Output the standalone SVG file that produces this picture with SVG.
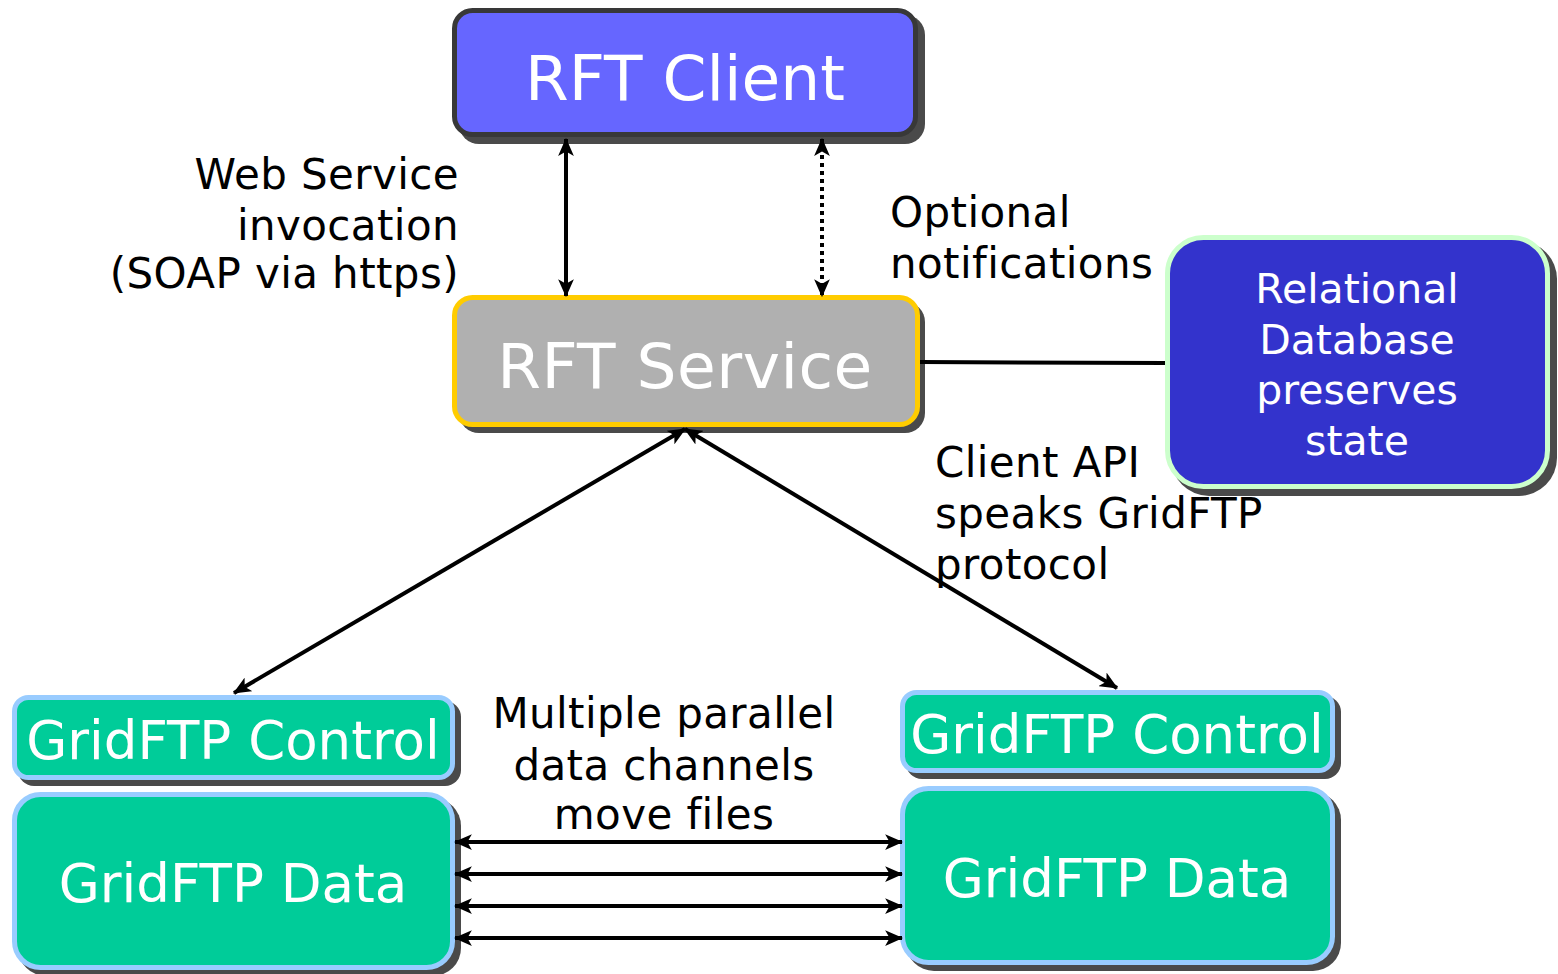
<svg xmlns="http://www.w3.org/2000/svg" width="1558" height="974" viewBox="0 0 1558 974">
<style>
  .shadow { fill: #4a4a4a; }
  .lbl { font-family: "DejaVu Sans", Verdana, sans-serif; fill: #000; font-size: 42px; letter-spacing: 0.4px; }
  .ntxt { font-family: "DejaVu Sans", Verdana, sans-serif; fill: #fff; text-anchor: middle; }
  .conn { stroke: #000; stroke-width: 4; fill: none; marker-start: url(#arr); marker-end: url(#arr); }
</style>
<defs>
  <marker id="arr" viewBox="0 0 16 14" refX="15" refY="7" markerWidth="18" markerHeight="16" markerUnits="userSpaceOnUse" orient="auto-start-reverse">
    <path d="M0,0 L16,7 L0,14 L4,7 z" fill="#000"/>
  </marker>
</defs>
<rect width="1558" height="974" fill="#fff"/>

<g id="rft-client">
  <rect class="shadow" x="459" y="15" width="466" height="129" rx="20"/>
  <rect x="454.5" y="10.5" width="461" height="124" rx="18" fill="#6666ff" stroke="#383838" stroke-width="5"/>
  <text class="ntxt" x="685" y="100" font-size="63">RFT Client</text>
</g>

<g id="rft-service">
  <rect class="shadow" x="459" y="302" width="466" height="131" rx="20"/>
  <rect x="454.5" y="297.5" width="463" height="127" rx="18" fill="#b0b0b0" stroke="#ffcc00" stroke-width="5"/>
  <text class="ntxt" x="685" y="388" font-size="63" letter-spacing="0.5">RFT Service</text>
</g>

<g id="database">
  <rect class="shadow" x="1171" y="241" width="386" height="255" rx="38"/>
  <rect x="1167.5" y="237.5" width="380" height="249" rx="36" fill="#3333cc" stroke="#ccffcc" stroke-width="5"/>
  <text class="ntxt" x="1357" y="303" font-size="41">Relational</text>
  <text class="ntxt" x="1357" y="354" font-size="41">Database</text>
  <text class="ntxt" x="1357" y="404" font-size="41">preserves</text>
  <text class="ntxt" x="1357" y="455" font-size="41">state</text>
</g>

<g id="gridftp-control-left">
  <rect class="shadow" x="18" y="701" width="443" height="85" rx="16"/>
  <rect x="14.5" y="697.5" width="438" height="80" rx="14" fill="#00cc99" stroke="#99ccff" stroke-width="5"/>
  <text class="ntxt" x="233" y="759" font-size="53">GridFTP Control</text>
</g>

<g id="gridftp-data-left">
  <rect class="shadow" x="18" y="798" width="443" height="178" rx="28"/>
  <rect x="14.5" y="794.5" width="438" height="173" rx="26" fill="#00cc99" stroke="#99ccff" stroke-width="5"/>
  <text class="ntxt" x="233" y="902" font-size="53">GridFTP Data</text>
</g>

<g id="gridftp-control-right">
  <rect class="shadow" x="906" y="696" width="435" height="83" rx="16"/>
  <rect x="902.5" y="692.5" width="430" height="78" rx="14" fill="#00cc99" stroke="#99ccff" stroke-width="5"/>
  <text class="ntxt" x="1117" y="753" font-size="53">GridFTP Control</text>
</g>

<g id="gridftp-data-right">
  <rect class="shadow" x="906" y="792" width="435" height="179" rx="28"/>
  <rect x="902.5" y="788.5" width="430" height="174" rx="26" fill="#00cc99" stroke="#99ccff" stroke-width="5"/>
  <text class="ntxt" x="1117" y="897" font-size="53">GridFTP Data</text>
</g>

<g id="connectors">
  <line class="conn" x1="566" y1="139" x2="566" y2="296"/>
  <line class="conn" x1="822" y1="139" x2="822" y2="296" stroke-dasharray="4,4"/>
  <line x1="920" y1="362" x2="1165" y2="363" stroke="#000" stroke-width="4"/>
  <line class="conn" x1="685" y1="429" x2="234" y2="693"/>
  <line class="conn" x1="685" y1="429" x2="1117" y2="688"/>
  <line class="conn" x1="455" y1="842" x2="902" y2="842"/>
  <line class="conn" x1="455" y1="874" x2="902" y2="874"/>
  <line class="conn" x1="455" y1="906" x2="902" y2="906"/>
  <line class="conn" x1="455" y1="938" x2="902" y2="938"/>
</g>

<g id="labels">
  <text class="lbl" x="459" y="189" text-anchor="end">Web Service</text>
  <text class="lbl" x="459" y="240" text-anchor="end">invocation</text>
  <text class="lbl" x="459" y="288" text-anchor="end">(SOAP via https)</text>
  <text class="lbl" x="890" y="227">Optional</text>
  <text class="lbl" x="890" y="278">notifications</text>
  <text class="lbl" x="935" y="477">Client API</text>
  <text class="lbl" x="935" y="528">speaks GridFTP</text>
  <text class="lbl" x="935" y="579">protocol</text>
  <text class="lbl" x="664" y="728" text-anchor="middle">Multiple parallel</text>
  <text class="lbl" x="664" y="780" text-anchor="middle">data channels</text>
  <text class="lbl" x="664" y="829" text-anchor="middle">move files</text>
</g>
</svg>
